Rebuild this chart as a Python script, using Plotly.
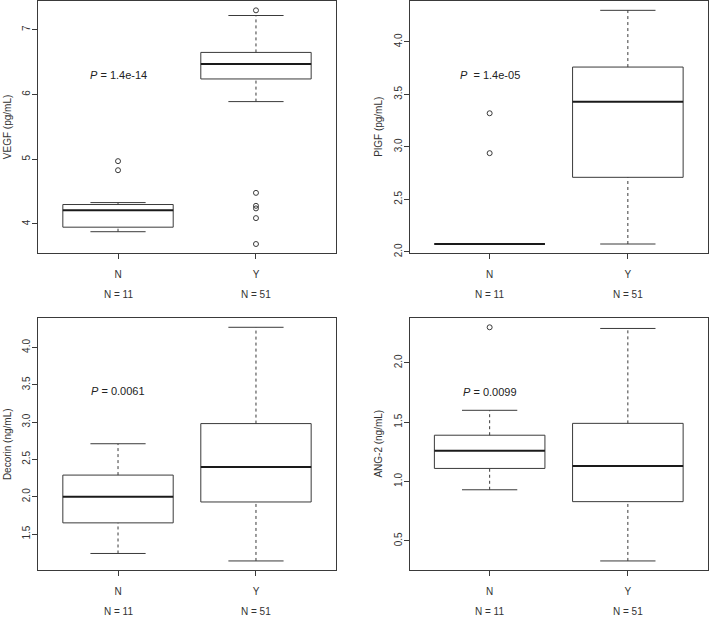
import plotly.graph_objects as go
from plotly.subplots import make_subplots

# Группы и размеры выборок
groups = ["N", "Y"]
group_n = [11, 51]

# Статистики боксплотов: [нижний ус, Q1, медиана, Q3, верхний ус] для N и Y
vegf_stats = [[3.88, 3.95, 4.21, 4.30, 4.33], [5.89, 6.24, 6.47, 6.65, 7.22]]
vegf_out = [[4.97, 4.83], [7.30, 4.48, 4.28, 4.24, 4.09, 3.69]]

plgf_stats = [[2.075, 2.075, 2.075, 2.075, 2.075], [2.075, 2.71, 3.43, 3.76, 4.30]]
plgf_out = [[3.32, 2.94], []]

decorin_stats = [[1.24, 1.65, 2.00, 2.29, 2.71], [1.14, 1.93, 2.40, 2.98, 4.27]]
decorin_out = [[], []]

ang2_stats = [[0.93, 1.11, 1.26, 1.39, 1.60], [0.33, 0.83, 1.13, 1.49, 2.29]]
ang2_out = [[2.30], []]

titles = ["VEGF (pg/mL)", "PlGF (pg/mL)", "Decorin (ng/mL)", "ANG-2 (ng/mL)"]
p_texts = ["<i>P</i> = 1.4e-14", "<i>P</i>&nbsp; = 1.4e-05", "<i>P</i> = 0.0061", "<i>P</i> = 0.0099"]
p_ypos = [6.30, 3.685, 3.41, 1.756]
ytick_step = [1, 0.5, 0.5, 0.5]
ytick_fmt = ["d", ".1f", ".1f", ".1f"]

panels = [
    (vegf_stats, vegf_out),
    (plgf_stats, plgf_out),
    (decorin_stats, decorin_out),
    (ang2_stats, ang2_out),
]

LINE = "#3a3a3a"
FONT = "Liberation Sans, Arial, sans-serif"
W, H = 709, 619

fig = make_subplots(rows=2, cols=2)

def add_box(fig, row, col, x, st, w=0.8):
    lo, q1, med, q3, hi = st
    h = w / 2
    line = dict(color=LINE, width=1)
    # коробка
    fig.add_trace(go.Scatter(x=[x - h, x + h, x + h, x - h, x - h], y=[q1, q1, q3, q3, q1],
                             mode="lines", line=line, hoverinfo="skip"), row=row, col=col)
    # усы (пунктир)
    for a, b in [(q3, hi), (lo, q1)]:
        fig.add_trace(go.Scatter(x=[x, x], y=[a, b], mode="lines",
                                 line=dict(color=LINE, width=1, dash="3px,3px"), hoverinfo="skip"),
                      row=row, col=col)
    # концы усов
    for v in [hi, lo]:
        fig.add_trace(go.Scatter(x=[x - h / 2, x + h / 2], y=[v, v], mode="lines",
                                 line=line, hoverinfo="skip"), row=row, col=col)
    # медиана
    fig.add_trace(go.Scatter(x=[x - h, x + h], y=[med, med], mode="lines",
                             line=dict(color="#1a1a1a", width=2), hoverinfo="skip"), row=row, col=col)

for i, (stats, outs) in enumerate(panels):
    row, col = i // 2 + 1, i % 2 + 1
    for j, g in enumerate(groups):
        add_box(fig, row, col, j + 1, stats[j])
        if outs[j]:
            fig.add_trace(go.Scatter(x=[j + 1] * len(outs[j]), y=outs[j], mode="markers",
                                     marker=dict(symbol="circle-open", size=5, color=LINE,
                                                 line=dict(width=1, color=LINE))),
                          row=row, col=col)
    vals = [v for s in stats for v in s] + [v for o in outs for v in o]
    lo, hi = min(vals), max(vals)
    pad = 0.04 * (hi - lo)
    fig.update_yaxes(range=[lo - pad, hi + pad], dtick=ytick_step[i], tickformat=ytick_fmt[i],
                     tickangle=-90, row=row, col=col)

    k = "" if i == 0 else str(i + 1)
    fig.add_annotation(x=1, y=p_ypos[i], xref="x" + k, yref="y" + k, text=p_texts[i],
                       showarrow=False, font=dict(size=11, color="#222222", family=FONT))
    fig.add_annotation(x=0, y=0.5, xref="x" + k + " domain", yref="y" + k + " domain",
                       text=titles[i], textangle=-90, showarrow=False, xanchor="center",
                       xshift=-31, font=dict(size=10, color="#333333", family=FONT))
    for j, g in enumerate(groups):
        fig.add_annotation(x=j + 1, y=0, xref="x" + k, yref="y" + k + " domain",
                           text="N = %d" % group_n[j], showarrow=False, yshift=-41,
                           yanchor="middle",
                           font=dict(size=10, color="#333333", family=FONT))

fig.update_xaxes(range=[0.42, 2.58], tickvals=[1, 2], ticktext=groups, ticks="outside",
                 ticklen=5, tickcolor=LINE, showline=True, mirror=True, linecolor=LINE,
                 linewidth=1, showgrid=False, zeroline=False, ticklabelstandoff=7,
                 tickfont=dict(size=10, color="#333333", family=FONT))
fig.update_yaxes(ticks="outside", ticklen=5, tickcolor=LINE, showline=True, mirror=True,
                 linecolor=LINE, linewidth=1, showgrid=False, zeroline=False,
                 ticklabelstandoff=-2,
                 tickfont=dict(size=10, color="#333333", family=FONT))

# расположение панелей
xl = [38 / W, 336 / W]
xr = [409.5 / W, 708 / W]
yt = [1 - 255 / H, 1 - 1 / H]
yb = [1 - 574 / H, 1 - 320 / H]
fig.update_layout(
    xaxis=dict(domain=xl), yaxis=dict(domain=yt),
    xaxis2=dict(domain=xr), yaxis2=dict(domain=yt),
    xaxis3=dict(domain=xl), yaxis3=dict(domain=yb),
    xaxis4=dict(domain=xr), yaxis4=dict(domain=yb),
    width=W, height=H, margin=dict(l=0, r=0, t=0, b=0),
    showlegend=False, plot_bgcolor="white", paper_bgcolor="white",
    font=dict(family=FONT, size=10, color="#333333"),
)

fig.write_html("out.html", config={"displayModeBar": False},
               post_script="document.body.style.margin='0';")
